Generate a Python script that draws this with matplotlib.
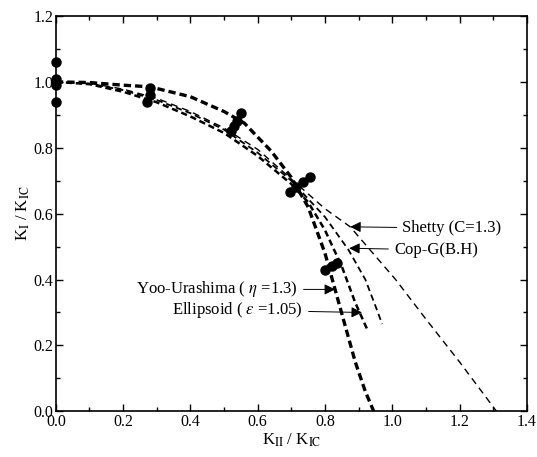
import numpy as np
import matplotlib
matplotlib.use("Agg")
import matplotlib.pyplot as plt

plt.rcParams['font.family'] = ['Liberation Serif', 'DejaVu Serif']
plt.rcParams['mathtext.fontset'] = 'stix'

# curves (KII/KIC, KI/KIC)
yoo_x = [0.0, 0.1, 0.2, 0.28, 0.4, 0.5, 0.56, 0.64, 0.70, 0.75, 0.80, 0.83, 0.86, 0.89, 0.92, 0.945]
yoo_y = [1.0, 0.998, 0.99, 0.985, 0.955, 0.91, 0.875, 0.79, 0.71, 0.62, 0.48, 0.37, 0.26, 0.15, 0.06, 0.0]

ell_x = [0.0, 0.1, 0.2, 0.3, 0.4, 0.5, 0.6, 0.7, 0.75, 0.80, 0.85, 0.89, 0.925]
ell_y = [1.0, 0.993, 0.97, 0.938, 0.895, 0.845, 0.775, 0.69, 0.635, 0.55, 0.44, 0.33, 0.25]

cop_x = [0.0, 0.1, 0.2, 0.3, 0.4, 0.5, 0.6, 0.7, 0.8, 0.87, 0.92, 0.95, 0.97]
cop_y = [1.0, 0.995, 0.975, 0.945, 0.905, 0.855, 0.785, 0.70, 0.59, 0.49, 0.40, 0.32, 0.265]

she_x = [0.0, 0.1, 0.2, 0.3, 0.4, 0.5, 0.6, 0.7, 0.8, 0.875, 1.01, 1.1, 1.2, 1.31]
she_y = [1.0, 0.996, 0.978, 0.95, 0.91, 0.86, 0.795, 0.705, 0.615, 0.56, 0.40, 0.28, 0.15, 0.0]

# experimental points
pts_x = [0.0, 0.0, 0.0, 0.0, 0.28, 0.28, 0.27, 0.52, 0.53, 0.54, 0.55,
         0.695, 0.715, 0.735, 0.755, 0.80, 0.82, 0.835]
pts_y = [1.06, 1.01, 0.99, 0.94, 0.98, 0.96, 0.94, 0.85, 0.865, 0.88, 0.905,
         0.665, 0.68, 0.695, 0.71, 0.43, 0.44, 0.45]

fig = plt.figure(figsize=(5.37, 4.57), dpi=100)
ax = fig.add_axes([0.104, 0.100, 0.877, 0.865])

ax.plot(yoo_x, yoo_y, color='k', lw=2.4, dashes=(2.2, 1.2))
ax.plot(ell_x, ell_y, color='k', lw=1.8, dashes=(2.5, 1.5))
ax.plot(cop_x, cop_y, color='k', lw=1.3, dashes=(3.5, 2.2))
ax.plot(she_x, she_y, color='k', lw=1.0, dashes=(5, 3.5))
ax.plot(pts_x, pts_y, 'o', color='k', ms=6.5, clip_on=False, zorder=5)

fs = 12
arrow = dict(arrowstyle='-|>', color='k', lw=0.7, mutation_scale=16, shrinkA=2, shrinkB=0)
ax.annotate('Shetty (C=1.3)', xy=(0.875, 0.56), xytext=(1.03, 0.556),
            ha='left', va='center', fontsize=fs, arrowprops=arrow)
ax.annotate('Cop-G(B.H)', xy=(0.872, 0.495), xytext=(1.005, 0.49),
            ha='left', va='center', fontsize=fs, arrowprops=arrow)
ax.annotate(r'Yoo-Urashima ( $\eta$ =1.3)', xy=(0.83, 0.37), xytext=(0.72, 0.37),
            ha='right', va='center', fontsize=fs, arrowprops=arrow)
ax.annotate(r'Ellipsoid ( $\varepsilon$ =1.05)', xy=(0.91, 0.30), xytext=(0.735, 0.307),
            ha='right', va='center', fontsize=fs, arrowprops=arrow)

ax.set_xlim(0, 1.4)
ax.set_ylim(0, 1.2)
ax.set_xticks(np.arange(0, 1.41, 0.2))
ax.set_yticks(np.arange(0, 1.21, 0.2))
ax.set_xticks(np.arange(0, 1.41, 0.1), minor=True)
ax.set_yticks(np.arange(0, 1.21, 0.1), minor=True)
ax.set_xticklabels(['0.0', '0.2', '0.4', '0.6', '0.8', '1.0', '1.2', '1.4'])
ax.set_yticklabels(['0.0', '0.2', '0.4', '0.6', '0.8', '1.0', '1.2'])
ax.tick_params(which='both', direction='in', top=True, right=True, labelsize=11.5, pad=2)
ax.tick_params(which='major', length=5, width=1)
ax.tick_params(which='minor', length=3, width=1)
for s in ax.spines.values():
    s.set_linewidth(1.2)

ax.set_xlabel(r'K$_{\mathrm{II}}$ / K$_{\mathrm{IC}}$', fontsize=12, labelpad=1)
ax.set_ylabel(r'K$_{\mathrm{I}}$ / K$_{\mathrm{IC}}$', fontsize=12, labelpad=1)

fig.savefig('out.png', dpi=100)
